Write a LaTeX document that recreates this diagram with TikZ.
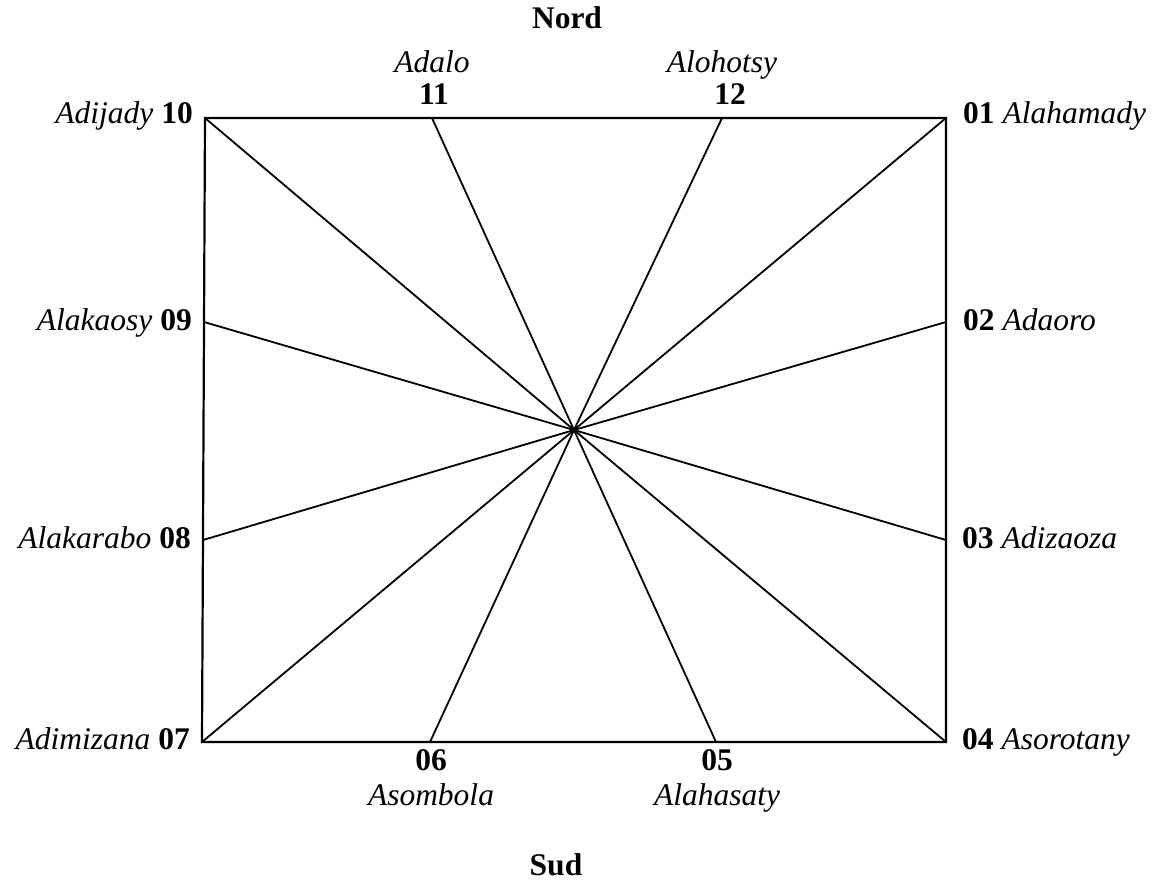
\documentclass[tikz,border=0pt]{standalone}
\usepackage{fontspec}
\setmainfont{Liberation Serif}
\begin{document}
\begin{tikzpicture}[x=1pt,y=-1pt,
  lbl/.style={inner sep=0pt,font=\fontsize{31.5}{38}\selectfont},
  ray/.style={line width=1.8pt},
  frame/.style={line width=2.2pt,line join=miter}]
\useasboundingbox (0,0) rectangle (1158,881);
% centre and boundary points
\coordinate (c) at (574,430);
\coordinate (p10) at (205,118);
\coordinate (p11) at (432,118);
\coordinate (p12) at (722,118);
\coordinate (p01) at (946,118);
\coordinate (p02) at (946,322);
\coordinate (p03) at (946,540);
\coordinate (p04) at (946,742);
\coordinate (p05) at (716,742);
\coordinate (p06) at (430,742);
\coordinate (p07) at (202,742);
\coordinate (p08) at (203,540);
\coordinate (p09) at (204,322);
% frame
\draw[frame] (p10) -- (p01) -- (p04) -- (p07) -- cycle;
% rays
\foreach \p in {p01,p02,p03,p04,p05,p06,p07,p08,p09,p10,p11,p12}
  \draw[ray] (c) -- (\p);
% labels
\node[lbl,anchor=base] (nord) at (567,28) {\textbf{Nord}};
\node[lbl,anchor=base] (sud) at (556,875) {\textbf{Sud}};
\node[lbl,anchor=base] (n11a) at (432,72) {\textit{Adalo}};
\node[lbl,anchor=base] (n11) at (434,104) {\textbf{11}};
\node[lbl,anchor=base] (n12a) at (722,72) {\textit{Alohotsy}};
\node[lbl,anchor=base] (n12) at (730,104) {\textbf{12}};
\node[lbl,anchor=base] (n06) at (431,770) {\textbf{06}};
\node[lbl,anchor=base] (n06a) at (431,805) {\textit{Asombola}};
\node[lbl,anchor=base] (n05) at (717,770) {\textbf{05}};
\node[lbl,anchor=base] (n05a) at (717,805) {\textit{Alahasaty}};
\node[lbl,anchor=base east] (n10) at (193,123) {\textit{Adijady} \textbf{10}};
\node[lbl,anchor=base east] (n09) at (192,330) {\textit{Alakaosy} \textbf{09}};
\node[lbl,anchor=base east] (n08) at (191,548) {\textit{Alakarabo} \textbf{08}};
\node[lbl,anchor=base east] (n07) at (190,749) {\textit{Adimizana} \textbf{07}};
\node[lbl,anchor=base west] (n01) at (963,123) {\textbf{01} \textit{Alahamady}};
\node[lbl,anchor=base west] (n02) at (963,330) {\textbf{02} \textit{Adaoro}};
\node[lbl,anchor=base west] (n03) at (962,548) {\textbf{03} \textit{Adizaoza}};
\node[lbl,anchor=base west] (n04) at (962,749) {\textbf{04} \textit{Asorotany}};
\end{tikzpicture}
\end{document}
